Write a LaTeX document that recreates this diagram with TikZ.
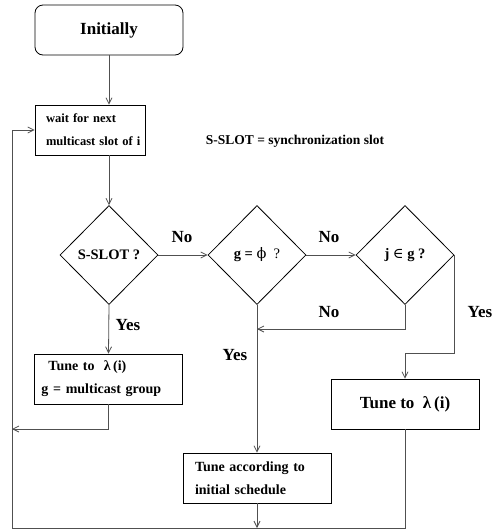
\documentclass[tikz,border=0pt]{standalone}
\usepackage{fontspec}
\setmainfont{Liberation Serif}
\newfontfamily\symfont{DejaVu Serif}
\usetikzlibrary{arrows.meta,positioning,shapes.geometric,calc}
\definecolor{wire}{HTML}{505050}

\begin{document}
\begin{tikzpicture}[x=1pt,y=-1pt,
    box/.style={draw,line width=0.8pt,rectangle,minimum width=148pt,minimum height=50pt,
      align=left,font=\fontsize{14}{23}\selectfont\bfseries},
    decision/.style={draw,line width=0.8pt,diamond,minimum width=98pt,minimum height=99pt,
      inner sep=0pt,font=\fontsize{14.5}{16}\selectfont\bfseries},
    flow/.style={wire,line width=0.8pt,-{Straight Barb[length=6pt,width=6pt]}},
    lbl/.style={font=\fontsize{17}{19}\selectfont\bfseries}]
  \useasboundingbox (0,0) rectangle (493,531);

  % start and waiting step
  \node[draw,line width=0.8pt,rounded corners=8pt,minimum width=148pt,minimum height=50pt,
    font=\fontsize{17}{19}\selectfont\bfseries] (init) at (109,30) {Initially};
  \node[box,minimum width=110pt,text width=88pt,inner xsep=11pt,
    font=\fontsize{12.5}{23}\selectfont\bfseries] (wait) at (90,130)
    {wait for next\\\mbox{multicast slot of i}};
  \node[font=\fontsize{13.5}{16}\selectfont\bfseries] (note) at (295,141) {S-SLOT = synchronization slot};

  % decisions
  \node[decision] (slot) at (109,255) {S-SLOT ?};
  \node[decision] (empty) at (257,255) {g = {\symfont\mdseries ϕ} \ {\mdseries ?}};
  \node[decision] (member) at (405,255) {j {\symfont\mdseries ∈} g ?};

  % tuning steps
  \node[box,text width=134pt,inner xsep=7pt] (tuneL) at (108.5,379)
    {\hspace*{7pt}Tune to\ \ λ\,(i)\\g = multicast group};
  \node[box,font=\fontsize{17}{19}\selectfont\bfseries] (tuneR) at (405,404) {Tune to\ \ λ\,(i)};
  \node[box,text width=124pt,inner xsep=12pt] (tuneA) at (257,478) {Tune according to\\initial schedule};

  \coordinate (merge) at (257,329);
  \coordinate (backL) at (12,429);
  \coordinate (corner) at (12,528);
  \coordinate (bottom) at (257,528);

  % connectors
  \draw[flow] (init.south) -- (init.south |- wait.north);
  \draw[flow] (slot.north |- wait.south) -- (slot.north);
  \draw[flow] (slot.east) -- (empty.west);
  \draw[flow] (empty.east) -- (member.west);
  \draw[flow] (member.south) |- (merge);
  \draw[flow] (member.east) |- ($(tuneR.north)+(0,-25)$) -- (tuneR.north);
  \draw[flow] (slot.south) -- (tuneL.north);
  \draw[flow] (empty.south) -- (tuneA.north);
  \draw[flow] (tuneL.south) |- (backL);
  \draw[flow] (tuneA.south) -- (bottom);
  \draw[flow] (tuneR.south) |- (corner) |- (wait.west);

  % branch labels
  \node[lbl] (noA) at (182,237) {No};
  \node[lbl] (noB) at (329,237) {No};
  \node[lbl] (noC) at (329,312) {No};
  \node[lbl] (yesA) at (128,325) {Yes};
  \node[lbl] (yesB) at (235,355) {Yes};
  \node[lbl] (yesC) at (480,312) {Yes};
\end{tikzpicture}
\end{document}
